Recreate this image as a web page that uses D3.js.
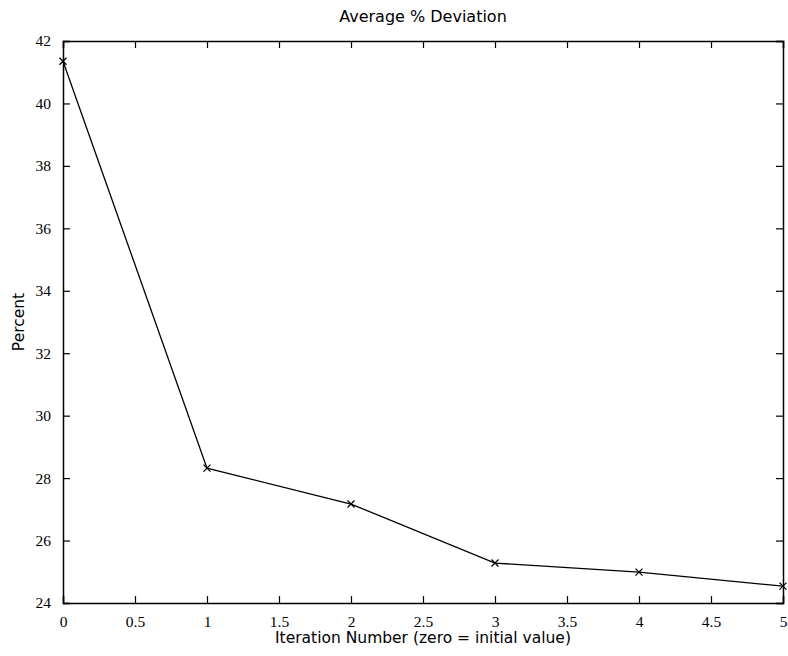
<!DOCTYPE html>
<html>
<head>
<meta charset="utf-8">
<script src="https://cdn.jsdelivr.net/npm/d3@7"></script>
<style>
  body { margin: 0; background: #fff; }
</style>
</head>
<body>
<div id="chart"></div>
<script>
// iteration number vs average % deviation
const iterations = [0, 1, 2, 3, 4, 5];
const deviation = [41.35, 28.32, 27.17, 25.28, 24.99, 24.54];
const xTicks = [0, 0.5, 1, 1.5, 2, 2.5, 3, 3.5, 4, 4.5, 5];
const yTicks = [24, 26, 28, 30, 32, 34, 36, 38, 40, 42];

const width = 788;
const height = 656;
const margin = { top: 41, right: 5, bottom: 53, left: 63 };
const innerWidth = width - margin.left - margin.right;
const innerHeight = height - margin.top - margin.bottom;

const svg = d3.select("#chart")
  .append("svg")
  .attr("width", width)
  .attr("height", height);

const g = svg.append("g")
  .attr("transform", `translate(${margin.left},${margin.top})`);

const x = d3.scaleLinear().domain([0, 5]).range([0, innerWidth]);
const y = d3.scaleLinear().domain([24, 42]).range([innerHeight, 0]);

const tickFont = "'Liberation Serif', 'DejaVu Serif', serif";
const labelFont = "'DejaVu Sans', Verdana, sans-serif";

// bottom axis with inward ticks
g.append("g")
  .attr("transform", `translate(0,${innerHeight})`)
  .call(d3.axisBottom(x).tickValues(xTicks).tickSize(-7).tickPadding(13).tickFormat(d3.format("")));

// top ticks (no labels)
const topAxis = g.append("g")
  .call(d3.axisTop(x).tickValues(xTicks).tickSize(-7).tickFormat(""));
topAxis.selectAll("text").remove();

g.append("g")
  .call(d3.axisLeft(y).tickValues(yTicks).tickSize(-7).tickPadding(12));

// right ticks (no labels)
const rightAxis = g.append("g")
  .attr("transform", `translate(${innerWidth},0)`)
  .call(d3.axisRight(y).tickValues(yTicks).tickSize(-7).tickFormat(""));
rightAxis.selectAll("text").remove();

g.selectAll(".domain").attr("stroke", "#000").attr("stroke-width", 1.5);
g.selectAll(".tick line").attr("stroke", "#000").attr("stroke-width", 1.2);
g.selectAll(".tick text")
  .attr("font-family", tickFont)
  .attr("font-size", 15.5)
  .attr("fill", "#000");

// the line
const line = d3.line()
  .x((d, i) => x(iterations[i]))
  .y(d => y(d));

g.append("path")
  .datum(deviation)
  .attr("fill", "none")
  .attr("stroke", "#000")
  .attr("stroke-width", 1.3)
  .attr("d", line);

// x markers
const s = 3.5;
g.selectAll(".marker")
  .data(deviation)
  .join("path")
    .attr("class", "marker")
    .attr("d", (d, i) => {
      const cx = x(iterations[i]);
      const cy = y(d);
      return `M${cx - s},${cy - s}L${cx + s},${cy + s}M${cx - s},${cy + s}L${cx + s},${cy - s}`;
    })
    .attr("stroke", "#000")
    .attr("stroke-width", 1.3);

// title and labels
svg.append("text")
  .attr("x", margin.left + innerWidth / 2)
  .attr("y", 22)
  .attr("text-anchor", "middle")
  .attr("font-family", labelFont)
  .attr("font-size", 16)
  .text("Average % Deviation");

svg.append("text")
  .attr("x", margin.left + innerWidth / 2)
  .attr("y", 643)
  .attr("text-anchor", "middle")
  .attr("font-family", labelFont)
  .attr("font-size", 15.5)
  .text("Iteration Number (zero = initial value)");

svg.append("text")
  .attr("transform", `translate(24,${margin.top + innerHeight / 2}) rotate(-90)`)
  .attr("text-anchor", "middle")
  .attr("font-family", labelFont)
  .attr("font-size", 15.5)
  .text("Percent");
</script>
</body>
</html>
